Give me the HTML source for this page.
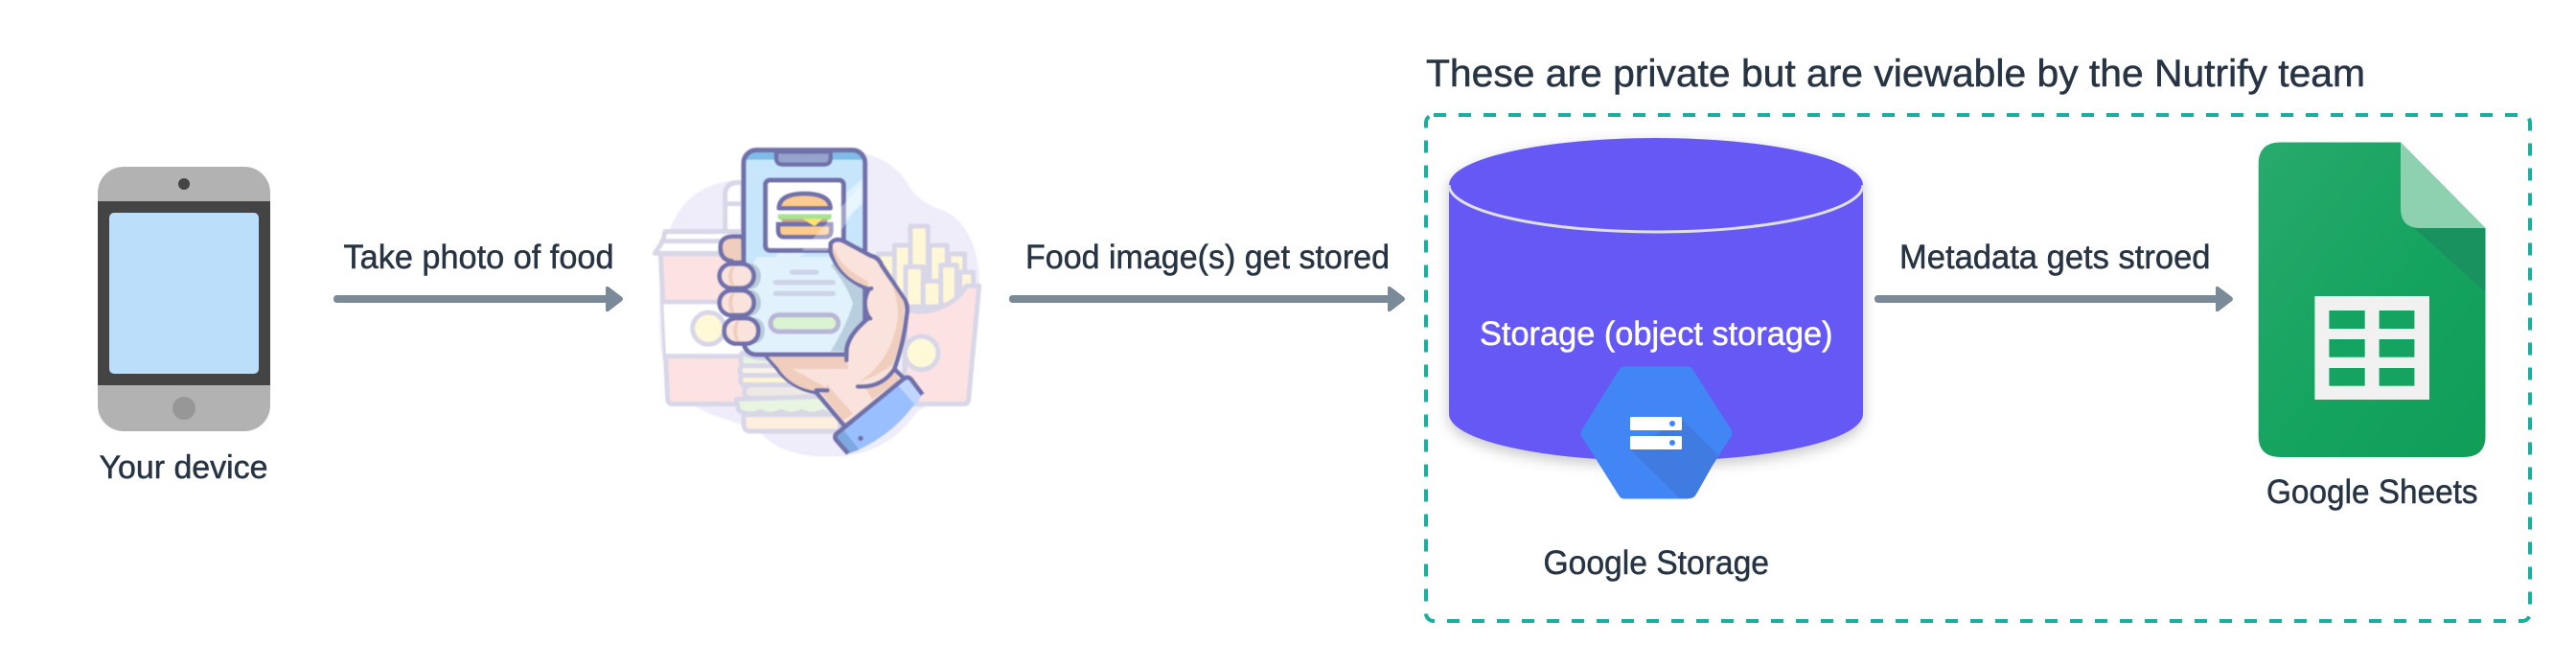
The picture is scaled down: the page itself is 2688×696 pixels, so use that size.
<!DOCTYPE html>
<html><head><meta charset="utf-8"><style>
html,body{margin:0;padding:0;background:#fff;width:2688px;height:696px;overflow:hidden}
svg{display:block}
text{font-family:"Liberation Sans",sans-serif;fill:#273444;stroke:#273444;stroke-width:.5px}
</style></head><body>
<svg width="2688" height="696" viewBox="0 0 2688 696" xmlns="http://www.w3.org/2000/svg">
<defs>
<filter id="sh" x="-10%" y="-10%" width="120%" height="125%"><feDropShadow dx="0" dy="5" stdDeviation="7" flood-color="#000" flood-opacity=".22"/></filter>
<filter id="soft" x="-5%" y="-5%" width="110%" height="110%"><feGaussianBlur stdDeviation="1.800"/></filter>
<linearGradient id="gs" x1="0" y1="0" x2="1" y2="1"><stop offset="0" stop-color="#28AA6C"/><stop offset=".55" stop-color="#15A360"/><stop offset="1" stop-color="#0F9D58"/></linearGradient>
<clipPath id="phoneClip"><rect x="378" y="80" width="380" height="640" rx="40"/></clipPath>
</defs>

<!-- device -->
<rect x="102" y="174" width="180" height="276" rx="27" fill="#b2b2b2"/>
<rect x="102" y="210" width="180" height="192" fill="#444"/>
<rect x="114" y="222" width="156" height="168" rx="5" fill="#bbdefb"/>
<ellipse cx="192" cy="192" rx="6" ry="6" fill="#444"/>
<circle cx="192" cy="426" r="12" fill="#979797"/>
<text x="103.500" y="499" font-size="34" textLength="176" lengthAdjust="spacingAndGlyphs">Your device</text>

<!-- arrows -->
<g fill="#7b8a99">
<path d="M352 308H632V301Q632 297 636 300L649 310Q651 312 649 314L636 324Q632 327 632 323V316H352Q348 316 348 312T352 308Z"/>
<path d="M1057 308H1448V301Q1448 297 1452 300L1465 310Q1467 312 1465 314L1452 324Q1448 327 1448 323V316H1057Q1053 316 1053 312T1057 308Z"/>
<path d="M1960 308H2312V301Q2312 297 2316 300L2329 310Q2331 312 2329 314L2316 324Q2312 327 2312 323V316H1960Q1956 316 1956 312T1960 308Z"/>
</g>
<text x="358.500" y="280" font-size="35" textLength="282" lengthAdjust="spacingAndGlyphs">Take photo of food</text>
<text x="1070" y="280" font-size="35" textLength="380" lengthAdjust="spacingAndGlyphs">Food image(s) get stored</text>
<text x="1982" y="280" font-size="35" textLength="324.500" lengthAdjust="spacingAndGlyphs">Metadata gets stroed</text>

<!-- illustration -->
<g transform="translate(650 130) scale(.33333)" filter="url(#soft)">
<path fill="#EFEDFA" d="M700 80C800 90 860 130 895 190C925 240 965 255 1010 272C1080 305 1118 400 1115 500C1110 640 1040 830 920 900C850 1000 760 1040 640 1040C540 1040 470 1010 430 965C370 935 320 925 270 905C190 870 125 800 118 690C108 560 115 430 150 320C190 225 260 180 370 172Z"/>
<g stroke="#D8D7E8" stroke-width="15" stroke-linejoin="round" stroke-linecap="round">
<!-- straw -->
<path fill="#fff" d="M320 340V215Q322 185 355 182H375V340Z"/>
<path fill="none" d="M322 248H370"/>
<!-- cup -->
<path fill="#FDE2E3" d="M118 405L140 860Q142 875 158 875H420V405Z"/>
<path fill="#fff" stroke="none" d="M127 560H400V725H135Z"/>
<path fill="none" d="M127 555H400M135 725H400"/>
<path fill="#fff" d="M100 403L125 365L132 335H390V403Z"/>
<path fill="none" d="M122 365H380"/>
<circle cx="268" cy="638" r="50" fill="#FFF9D8"/>
<!-- fries -->
<g fill="#FFF7D6">
<rect x="800" y="405" width="60" height="170"/>
<rect x="850" y="378" width="55" height="190"/>
<rect x="900" y="318" width="55" height="250"/>
<rect x="960" y="378" width="55" height="190"/>
<rect x="1020" y="405" width="50" height="160"/>
<rect x="1055" y="462" width="42" height="70"/>
<rect x="885" y="445" width="55" height="125"/>
<rect x="995" y="440" width="50" height="125"/>
<rect x="940" y="490" width="55" height="80"/>
</g>
<path fill="#FDE2E3" d="M885 578C960 600 1040 565 1075 505H1115L1082 860Q1080 875 1065 875H880Z"/>
<circle cx="935" cy="715" r="52" fill="#FFF9D8"/>
<!-- sandwich -->
<path fill="#E8F5E0" d="M372 715Q430 740 480 730L520 790H400Q360 760 372 715Z"/>
<path fill="#FBF3E9" d="M372 755H520V785H372Q360 770 372 755Z"/>
<path fill="#FFF5D2" d="M372 785H560V815H375Q362 800 372 785Z"/>
<rect x="380" y="815" width="250" height="42" rx="20" fill="#EFE9E5"/>
<path fill="#E8F5E0" d="M355 860L640 850L680 895Q650 915 625 898Q590 915 560 898Q525 915 495 898Q460 915 430 898Q395 915 362 895Z"/>
<path fill="#FDEEDD" d="M378 908H680V960H400Q378 960 378 935Z"/>
</g>

<!-- phone -->
<rect x="378" y="80" width="380" height="640" rx="40" fill="#E2F2FD"/>
<g clip-path="url(#phoneClip)">
<rect x="378" y="80" width="380" height="335" fill="#C7E6FC"/>
<path fill="#C7E6FC" d="M378 415H420L378 480Z"/>
<rect x="378" y="80" width="380" height="30" fill="#7FBDE8"/>
<path d="M400 480L760 160V240L420 530Z" fill="#E2F2FD" opacity=".85"/>
<path d="M650 440Q700 500 720 560Q700 630 650 710H760V400Z" fill="#B9CFDF"/>
</g>
<path d="M480 85H650V105Q650 125 630 125H500Q480 125 480 105Z" fill="#96A3CC" stroke="#7070AB" stroke-width="13"/>
<rect x="446" y="174" width="245" height="220" rx="14" fill="#fff" stroke="#7070AB" stroke-width="15"/>
<!-- burger -->
<path d="M488 262Q490 216 568 216Q648 216 650 262Z" fill="#FDCB8B" stroke="#7070AB" stroke-width="14" stroke-linejoin="round"/>
<path d="M486 280H652Q658 298 640 300H498Q480 298 486 280Z" fill="#A8E38F"/>
<path d="M498 296H640V312H498Z" fill="#C8A38F"/>
<path d="M486 312H652V332Q652 352 632 352H506Q486 352 486 332Z" fill="#FDCB8B" stroke="#7070AB" stroke-width="14"/>
<path d="M562 295H625L600 318Z" fill="#FFE46A"/>
<path d="M560 395L745 190V240L640 395Z" fill="#fff" opacity=".35"/>
<path d="M530 462H605M478 494H658M478 529H658" stroke="#CDD3E8" stroke-width="16" stroke-linecap="round"/>
<rect x="462" y="596" width="212" height="52" rx="26" fill="#D9F3D0" stroke="#B8B5D5" stroke-width="15"/>
<rect x="378" y="80" width="380" height="640" rx="40" fill="none" stroke="#7070AB" stroke-width="15"/>
<ellipse cx="400" cy="475" rx="32" ry="40" fill="#B9CBDA"/><ellipse cx="400" cy="558" rx="32" ry="40" fill="#B9CBDA"/><ellipse cx="412" cy="645" rx="32" ry="40" fill="#B9CBDA"/>

<!-- hand -->
<path fill="#F9E3DC" stroke="#7070AB" stroke-width="14" stroke-linejoin="round" d="M650 372Q665 352 692 365L775 410Q800 415 810 440L880 545Q895 565 888 600Q880 680 850 765L885 800L695 945L605 838Q525 825 480 760L445 720H700Q695 665 770 605Q745 560 770 515Q680 480 650 400Z"/>
<path fill="#F0CEBD" d="M455 727H700L705 765H530L640 825Q610 835 610 835Q525 825 485 760ZM620 838L690 925L720 905L640 815ZM760 825L850 775L865 800L780 860Z"/>
<path fill="#F0CEBD" d="M663 385Q670 440 765 490L768 508Q680 480 657 400ZM830 480L880 555Q880 680 840 755Q790 790 740 805Q840 740 860 610Q865 540 830 480Z"/>
<path d="M735 820Q810 825 850 765M605 832H640M770 515L778 513M770 605L775 607M700 720V738" fill="none" stroke="#7070AB" stroke-width="13" stroke-linecap="round"/>
<!-- fingers -->
<g fill="#F9E3DC" stroke="#7070AB" stroke-width="14">
<path d="M375 350H345Q305 350 305 385Q305 425 345 428L378 430Z" fill="#F0CEBD"/>
<rect x="302" y="436" width="108" height="76" rx="38"/>
<rect x="302" y="519" width="108" height="78" rx="38"/>
<rect x="317" y="606" width="107" height="80" rx="38"/>
</g>
<path d="M350 445Q335 475 350 505H340Q320 475 340 445ZM350 528Q335 558 350 590H340Q320 558 340 528ZM365 615Q350 645 365 678H355Q335 645 355 615Z" fill="#F0CEBD"/>
<path d="M345 360H370V425H345Q360 392 345 360Z" fill="#F0CEBD"/>
<!-- cuff -->
<path fill="#99BFFF" d="M668 972L882 795Q892 788 902 797L938 840Q880 930 805 980Q760 1012 705 1030L665 985Z"/>
<path fill="#BFD7FF" d="M860 815L885 795Q892 788 902 797L938 840L918 882Z"/>
<path fill="#7EA8E0" d="M690 955L740 1018L705 1030L665 985Q660 975 670 968Z"/>
<path d="M705 1030L668 988Q658 975 672 965L880 795Q892 787 902 797L938 845" fill="none" stroke="#7070AB" stroke-width="14" stroke-linejoin="round"/>
<circle cx="744" cy="982" r="8" fill="#7070AB"/>
</g>

<!-- dashed box -->
<rect x="1488" y="120" width="1152" height="528" rx="8" fill="none" stroke="#1aae9f" stroke-width="4" stroke-dasharray="13 13"/>
<text x="1488" y="90" font-size="40" textLength="980" lengthAdjust="spacingAndGlyphs">These are private but are viewable by the Nutrify team</text>

<!-- cylinder -->
<path d="M1512 193A216 49 0 0 1 1944 193V432A216 49 0 0 1 1512 432Z" fill="#6558f5" filter="url(#sh)"/>
<path d="M1512 193A216 49 0 0 0 1944 193" fill="none" stroke="#e0e0e0" stroke-width="3"/>
<text x="1544" y="360" font-size="35" textLength="368.500" lengthAdjust="spacingAndGlyphs" style="fill:#fff;stroke:#fff">Storage (object storage)</text>

<!-- hexagon -->
<path d="M1695 389H1761L1801 452L1761 514H1695L1656 452Z" fill="#4285f4" stroke="#4285f4" stroke-width="13" stroke-linejoin="round"/>
<path d="M1701 469L1753 520H1764Q1768 520 1771 514L1793 475L1755 437Z" fill="#3f7be0"/>
<rect x="1701" y="435" width="54" height="14" rx="1" fill="#fff"/>
<rect x="1701" y="455" width="54" height="14" rx="1" fill="#fff"/>
<circle cx="1745" cy="442" r="3" fill="#4285f4"/><circle cx="1745" cy="462" r="3" fill="#4285f4"/>
<text x="1610.500" y="599" font-size="35" textLength="235.500" lengthAdjust="spacingAndGlyphs">Google Storage</text>

<!-- sheets -->
<path d="M2380 148.500H2505L2593.500 238V455Q2593.500 477 2570 477H2380Q2356.700 477 2356.700 455V171Q2356.700 148.500 2380 148.500Z" fill="url(#gs)"/>
<path d="M2519.500 238H2593.500V305Z" fill="#1a9260"/>
<path d="M2505 148.500L2593.500 238H2525Q2505 238 2505 217Z" fill="#8ed1b1"/>
<rect x="2415.400" y="309" width="119.600" height="108" fill="#f1f1f1"/>
<g fill="#15a361">
<rect x="2430.400" y="324" width="37.300" height="19"/><rect x="2482.600" y="324" width="36.800" height="19"/>
<rect x="2430.400" y="354" width="37.300" height="18.700"/><rect x="2482.600" y="354" width="36.800" height="18.700"/>
<rect x="2430.400" y="384" width="37.300" height="18.700"/><rect x="2482.600" y="384" width="36.800" height="18.700"/>
</g>
<text x="2365" y="525" font-size="35" textLength="220.600" lengthAdjust="spacingAndGlyphs">Google Sheets</text>
</svg>
</body></html>
